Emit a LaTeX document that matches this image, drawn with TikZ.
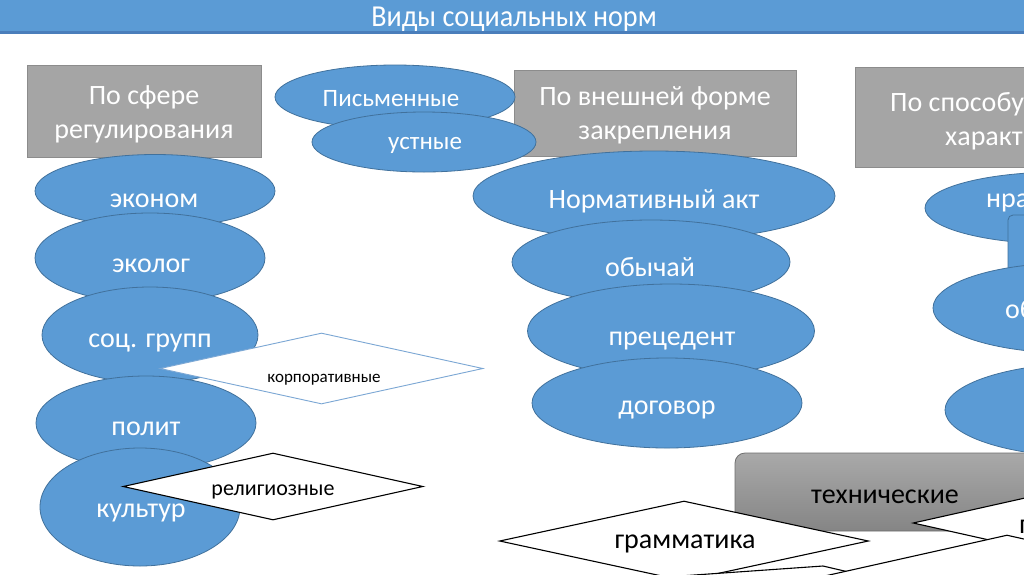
\documentclass[tikz,border=0pt]{standalone}
\usepackage{fontspec}
\setmainfont{Carlito}
\usetikzlibrary{shapes.geometric}
\definecolor{bfill}{HTML}{5B9BD5}
\definecolor{bline}{HTML}{41719C}
\definecolor{gfill}{HTML}{A5A5A5}
\definecolor{gline}{HTML}{8C8C8C}
\definecolor{tline}{HTML}{4A7EBB}
\definecolor{kline}{HTML}{7BA7D4}
\definecolor{techtop}{HTML}{A9A9A9}
\definecolor{techbot}{HTML}{858585}
\definecolor{techline}{HTML}{6E6E6E}
\tikzset{
 bell/.style={ellipse, fill=bfill, draw=bline, line width=0.8pt, inner sep=0pt},
 gbox/.style={rectangle, fill=gfill, draw=gline, line width=0.8pt, inner sep=0pt},
 wdia/.style={diamond, fill=white, draw=black, line width=1.1pt, inner sep=0pt},
 wt/.style={text=white, anchor=base, inner sep=0pt, font=\fontsize{28}{34}\selectfont},
 bt/.style={text=black, anchor=base, inner sep=0pt, font=\fontsize{28}{34}\selectfont},
 wtl/.style={wt, anchor=base west},
}
\begin{document}
\begin{tikzpicture}[x=1pt,y=-1pt]
\useasboundingbox (0,0) rectangle (1024,574);
\clip (0,0) rectangle (1024,574);
\fill[white] (0,0) rectangle (1024,574);
% title bar
\fill[bfill] (0,0) rectangle (1024,32);
\draw[tline, line width=2.5pt] (0,32.5) -- (1024,32.5);
\node[wt, font=\fontsize{29}{34}\selectfont] (title) at (514,26) {\scalebox{0.97}[1.05]{Виды социальных норм}};
% gray header boxes
\node[gbox, minimum width=234pt, minimum height=92pt] (box1) at (144,111) {};
\node[wt] (b1a) at (144,104) {По сфере};
\node[wt] (b1b) at (144,138) {регулирования};
\node[gbox, minimum width=282pt, minimum height=86pt] (box2) at (655,113) {};
\node[wt] (b2a) at (655,105) {По внешней форме};
\node[wt] (b2b) at (655,139) {закрепления};
\node[gbox, minimum width=245pt, minimum height=100pt] (box3) at (977.5,117) {};
\node[wtl] (b3a) at (890,111) {По способу};
\node[wtl] (b3b) at (945,145) {характ};
% written / oral
\node[bell, minimum width=240pt, minimum height=64pt] (pism) at (395,97) {};
\node[wt, font=\fontsize{25}{30}\selectfont] (pismt) at (391,106) {Письменные};
\node[bell, minimum width=224pt, minimum height=60pt] (ust) at (424,142) {};
\node[wt, font=\fontsize{25}{30}\selectfont] (ustt) at (425,149) {устные};
% left column
\node[bell, minimum width=240pt, minimum height=73pt] (ekon) at (155,191) {};
\node[wt] (ekont) at (154,207) {эконом};
\node[bell, minimum width=230pt, minimum height=90pt] (ekol) at (150,258) {};
\node[wt] (ekolt) at (151,272) {эколог};
\node[bell, minimum width=216pt, minimum height=96pt] (soc) at (150,335) {};
\node[wt] (soct) at (150,347) {соц. групп};
\node[diamond, fill=white, draw=kline, line width=0.9pt, inner sep=0pt,
      minimum width=323pt, minimum height=71pt] (korp) at (321.5,368.5) {};
\node[bt, font=\fontsize{17}{20}\selectfont] (korpt) at (324,382) {корпоративные};
\node[bell, minimum width=220pt, minimum height=94pt] (polit) at (146,423) {};
\node[wt] (politt) at (146,435) {полит};
\node[bell, minimum width=200pt, minimum height=118pt] (kult) at (140,507) {};
\node[wt] (kultt) at (141,517) {культур};
\node[wdia, minimum width=300pt, minimum height=67pt] (rel) at (273,486.5) {};
\node[bt, font=\fontsize{22}{26}\selectfont] (relt) at (273,495) {религиозные};
% middle column
\node[bell, minimum width=362pt, minimum height=90pt] (norm) at (654,196) {};
\node[wt] (normt) at (654,208) {Нормативный акт};
\node[bell, minimum width=278pt, minimum height=84pt] (obych) at (651,262) {};
\node[wt] (obycht) at (650,276) {обычай};
\node[bell, minimum width=287pt, minimum height=94pt] (prec) at (671,331) {};
\node[wt] (prect) at (672,345) {прецедент};
\node[bell, minimum width=270pt, minimum height=90pt] (dog) at (667,403) {};
\node[wt] (dogt) at (667,414) {договор};
% right column
\node[bell, minimum width=270pt, minimum height=72pt] (nrav) at (1060,208) {};
\node[wtl] (nravt) at (986,207) {нра};
\draw[fill=bfill, draw=bline, line width=0.8pt, rounded corners=5pt] (1008,215) rectangle (1080,290);
\node[bell, minimum width=274pt, minimum height=90pt] (ob) at (1070,308) {};
\node[wtl] (obt) at (1005,318) {об};
\node[bell, minimum width=290pt, minimum height=94pt] (third) at (1090,410) {};
% bottom
\node[rectangle, rounded corners=10pt, top color=techtop, bottom color=techbot,
      draw=techline, line width=0.8pt, minimum width=365pt, minimum height=78pt] (tech) at (917.5,492) {};
\node[bt] (techt) at (885,503) {технические};
\node[wdia, minimum width=369pt, minimum height=80pt] (gram) at (684,541) {};
\node[bt] (gramt) at (685,548) {грамматика};
\draw[fill=white, draw=black, line width=1.1pt] (480,590) -- (823,566) -- (900,584) -- (823,640) -- cycle;
\node[wdia, minimum width=374pt, minimum height=84pt] (d1) at (1100,523) {};
\node[bt, anchor=base west] (d1t) at (1019,533) {п};
\node[wdia, minimum width=374pt, minimum height=84pt] (d2) at (1007,577) {};
\end{tikzpicture}
\end{document}
